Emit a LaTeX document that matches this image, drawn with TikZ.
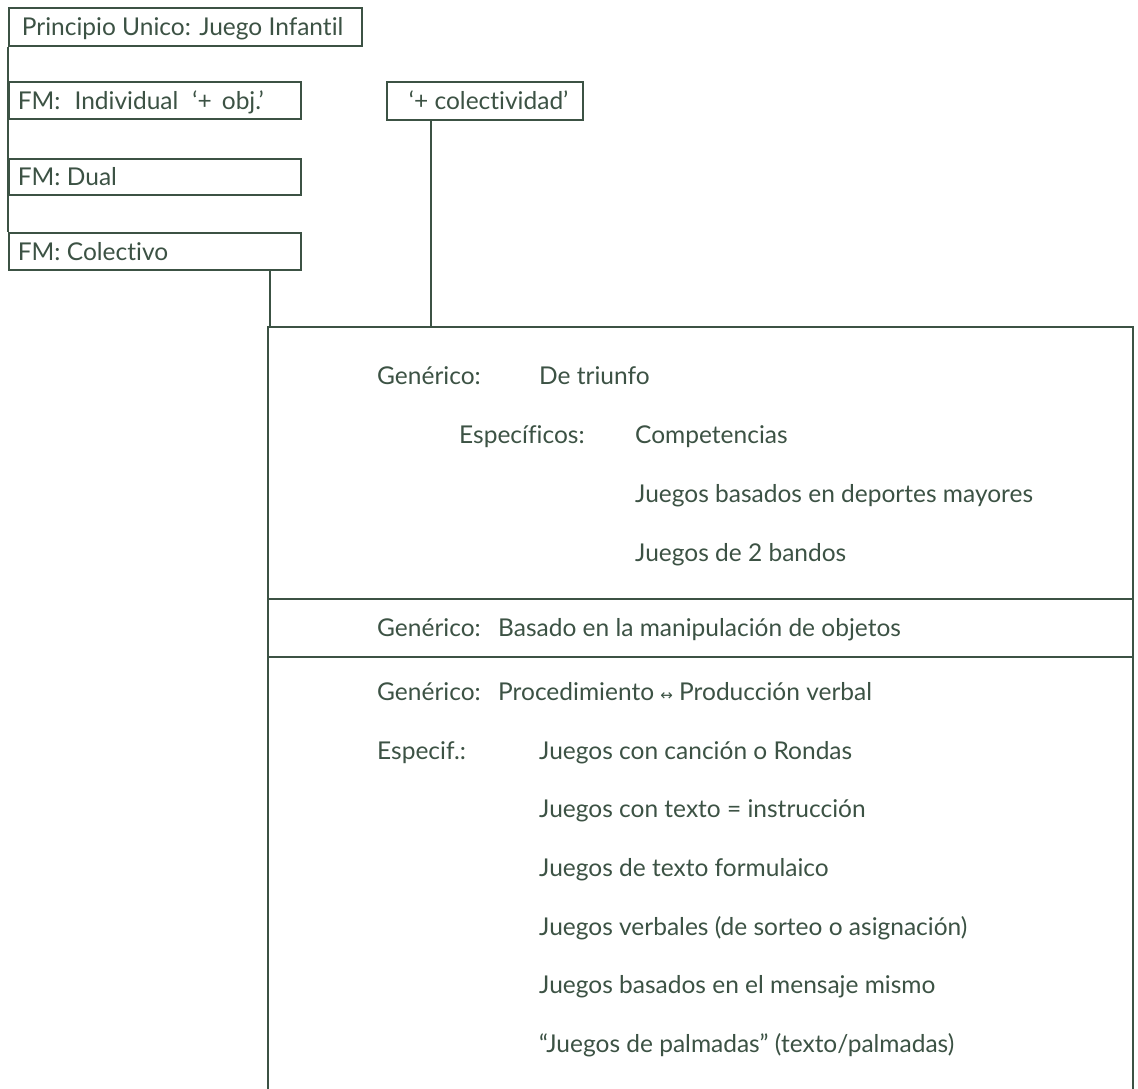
\documentclass[tikz,border=0pt]{standalone}
\usepackage{fontspec}
\setmainfont{Lato}[Ligatures={NoCommon}]
\newfontfamily\arrowfont{DejaVu Sans}
\definecolor{ink}{RGB}{60,82,68}
\begin{document}
\begin{tikzpicture}[x=1pt,y=-1pt,
  inkline/.style={draw=ink, line width=1.7pt},
  box/.style={inkline, anchor=north west, inner ysep=0pt, minimum height=37pt,
              text height=20pt, text depth=2pt, text=ink, font=\fontsize{24.5}{28}\selectfont},
  lbl/.style={anchor=base west, inner sep=0pt, text=ink, font=\fontsize{24.5}{28}\selectfont}]
\useasboundingbox (0,0) rectangle (1138,1089);
% left column boxes
\node[box, inner xsep=13pt, minimum height=38pt] (b1) at (8,7) {\makebox[327pt][l]{Principio Unico: Juego Infantil}};
\node[box, inner xsep=9pt] (b2) at (8,81) {\makebox[274pt][l]{FM:\hspace{14pt}Individual\hspace{14pt}‘+\hspace{10pt}obj.’}};
\node[box, inner xsep=9pt, minimum height=36pt] (b3) at (8,158) {\makebox[274pt][l]{FM: Dual}};
\node[box, inner xsep=9pt] (b4) at (8,232) {\makebox[274pt][l]{FM: Colectivo}};
\node[box, inner xsep=22pt, minimum height=38pt] (b5) at (386,81) {\makebox[152pt][l]{‘+ colectividad’}};
% frame coordinates
\coordinate (fTL) at (268,327);
\coordinate (fTR) at (1133,327);
\coordinate (fBL) at (268,1092);
\coordinate (fBR) at (1133,1092);
\coordinate (s1L) at (268,599);
\coordinate (s1R) at (1133,599);
\coordinate (s2L) at (268,657);
\coordinate (s2R) at (1133,657);
% connectors
\draw[inkline] (b1.south west) -- (b4.north west);
\draw[inkline] (b4.south east) ++(-32,0) coordinate (c4) -- (c4 |- fTL);
\draw[inkline] (b5.south west) ++(45,0) coordinate (c5) -- (c5 |- fTL);
% frame
\draw[inkline] (fBL) -- (fTL) -- (fTR) -- (fBR);
\draw[inkline] (s1L) -- (s1R);
\draw[inkline] (s2L) -- (s2R);
% section 1
\node[lbl] (g1) at (377,384) {Genérico:};
\node[lbl] (g1v) at (539,384) {De triunfo};
\node[lbl] (e1) at (459,443) {Específicos:};
\node[lbl] (e1a) at (635,443) {Competencias};
\node[lbl] (e1b) at (635,502) {Juegos basados en deportes mayores};
\node[lbl] (e1c) at (635,561) {Juegos de 2 bandos};
% section 2
\node[lbl] (g2) at (377,636) {Genérico:};
\node[lbl] (g2v) at (498,636) {Basado en la manipulación de objetos};
% section 3
\node[lbl] (g3) at (377,700) {Genérico:};
\node[lbl] (g3v) at (498,700) {Procedimiento {\arrowfont\fontsize{15}{15}\selectfont ↔} Producción verbal};
\node[lbl] (e3) at (377,759) {Especif.:};
\node[lbl] (e3a) at (539,759) {Juegos con canción o Rondas};
\node[lbl] (e3b) at (539,817.7) {Juegos con texto = instrucción};
\node[lbl] (e3c) at (539,876.4) {Juegos de texto formulaico};
\node[lbl] (e3d) at (539,935.1) {Juegos verbales (de sorteo o asignación)};
\node[lbl] (e3e) at (539,993.8) {Juegos basados en el mensaje mismo};
\node[lbl] (e3f) at (539,1052.5) {“Juegos de palmadas” (texto/palmadas)};
\end{tikzpicture}
\end{document}
